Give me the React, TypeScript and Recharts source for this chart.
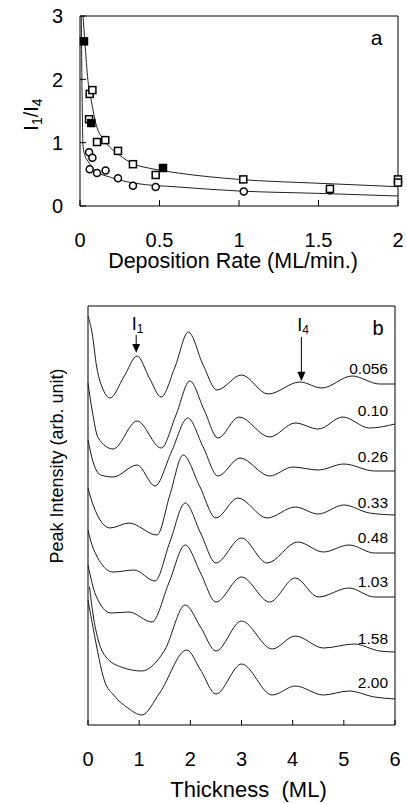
import React from 'react';
import { ComposedChart, LineChart, Line, Scatter, XAxis, YAxis, ReferenceArea } from 'recharts';

const FONT = '"Liberation Sans", Arial, Helvetica, sans-serif';

// ---------- Panel a ----------
const rateTicks = [0, 0.5, 1, 1.5, 2];
const ratioTicks = [0, 1, 2, 3];

const openSquares = [
  { x: 0.061, y: 1.77 }, { x: 0.078, y: 1.83 }, { x: 0.057, y: 1.37 }, { x: 0.107, y: 1.01 },
  { x: 0.159, y: 1.04 }, { x: 0.239, y: 0.87 }, { x: 0.333, y: 0.66 }, { x: 0.476, y: 0.49 },
  { x: 1.027, y: 0.42 }, { x: 1.572, y: 0.27 }, { x: 2.0, y: 0.42 }, { x: 2.0, y: 0.37 },
];
const filledSquares = [
  { x: 0.025, y: 2.6 }, { x: 0.071, y: 1.31 }, { x: 0.522, y: 0.6 },
];
const openCircles = [
  { x: 0.057, y: 0.85 }, { x: 0.078, y: 0.76 }, { x: 0.061, y: 0.58 }, { x: 0.107, y: 0.52 },
  { x: 0.161, y: 0.56 }, { x: 0.239, y: 0.44 }, { x: 0.333, y: 0.32 }, { x: 0.476, y: 0.3 },
  { x: 1.03, y: 0.23 }, { x: 1.572, y: 0.25 },
];
const fitUpper = [
  { x: 0.019, y: 3.0 }, { x: 0.03, y: 2.61 }, { x: 0.05, y: 1.98 }, { x: 0.071, y: 1.66 },
  { x: 0.1, y: 1.3 }, { x: 0.155, y: 1.03 }, { x: 0.24, y: 0.82 }, { x: 0.34, y: 0.66 },
  { x: 0.44, y: 0.595 }, { x: 0.62, y: 0.52 }, { x: 1.0, y: 0.42 }, { x: 1.49, y: 0.36 },
  { x: 2.0, y: 0.305 },
];
const fitLower = [
  { x: 0.008, y: 3.0 }, { x: 0.012, y: 2.0 }, { x: 0.019, y: 0.95 }, { x: 0.03, y: 0.8 },
  { x: 0.05, y: 0.71 }, { x: 0.092, y: 0.56 }, { x: 0.197, y: 0.45 }, { x: 0.344, y: 0.36 },
  { x: 0.62, y: 0.3 }, { x: 1.0, y: 0.237 }, { x: 1.49, y: 0.2 }, { x: 2.0, y: 0.158 },
];

// ---------- Panel b ----------
const thicknessTicks = [0, 1, 2, 3, 4, 5, 6];
const depositionRates = ['0.056', '0.10', '0.26', '0.33', '0.48', '1.03', '1.58', '2.00'];

const curve056: number[][] = [
  [0, 40.9], [0.08, 39.2], [0.17, 35.8], [0.3, 33.5], [0.43, 32.7], [0.7, 34.8], [0.96, 36.9],
  [1.2, 34.7], [1.43, 32.8], [1.7, 35.8], [1.96, 39.3], [2.25, 36.0], [2.52, 33.5], [3.0, 35.0],
  [3.52, 33.1], [4.14, 34.3], [4.57, 33.7], [5.16, 34.9], [5.7, 34.1], [6, 34.1],
];
const curve010: number[][] = [
  [0, 34.2], [0.08, 31.5], [0.2, 28.7], [0.49, 27.6], [0.96, 30.4], [1.43, 27.7], [1.72, 31.0],
  [1.99, 34.4], [2.27, 31.5], [2.54, 28.7], [2.95, 30.8], [3.55, 28.8], [4.05, 30.2], [4.5, 29.6],
  [4.98, 30.8], [5.5, 29.7], [6, 30.1],
];
const curve026: number[][] = [
  [0, 28.5], [0.1, 26.3], [0.25, 25.0], [0.49, 24.8], [0.96, 26.0], [1.31, 23.9], [1.63, 27.3],
  [1.95, 30.7], [2.25, 27.8], [2.54, 24.9], [2.97, 26.7], [3.55, 24.9], [4.0, 25.8], [4.5, 25.5],
  [5.0, 26.1], [5.6, 25.4], [6, 25.4],
];
const curve033: number[][] = [
  [0, 23.7], [0.1, 22.0], [0.43, 19.7], [0.8, 20.2], [1.35, 19.0], [1.6, 23.0], [1.86, 27.0],
  [2.18, 23.9], [2.5, 20.7], [2.93, 22.7], [3.5, 20.7], [4.05, 21.8], [4.5, 21.1], [5.0, 22.0],
  [5.5, 21.2], [6, 21.0],
];
const curve048: number[][] = [
  [0, 19.5], [0.1, 17.7], [0.49, 15.3], [0.9, 15.5], [1.31, 14.4], [1.6, 18.3], [1.9, 22.2],
  [2.2, 19.2], [2.5, 16.2], [3.0, 18.7], [3.5, 16.2], [4.1, 18.3], [4.6, 17.3], [5.1, 18.0],
  [5.6, 17.2], [6, 17.2],
];
const curve103: number[][] = [
  [0, 16.0], [0.15, 13.0], [0.45, 11.2], [0.8, 11.3], [1.25, 10.3], [1.58, 14.2], [1.9, 18.0],
  [2.2, 15.2], [2.5, 12.3], [3.0, 14.8], [3.55, 12.3], [4.05, 14.7], [4.5, 12.8], [5.1, 13.7],
  [5.6, 12.8], [6, 12.8],
];
const curve158: number[][] = [
  [0.03, 13.8], [0.1, 11.0], [0.2, 8.5], [0.35, 6.8], [0.65, 5.8], [1.05, 5.4], [1.5, 7.5],
  [1.9, 12.0], [2.2, 9.8], [2.5, 7.4], [3.0, 10.4], [3.6, 7.6], [4.05, 8.9], [4.6, 7.7],
  [5.2, 8.1], [5.7, 7.4], [6, 7.3],
];
const curve200: number[][] = [
  [0, 12.5], [0.1, 9.7], [0.33, 4.3], [0.5, 3.0], [0.78, 1.7], [1.05, 1.0], [1.4, 3.2],
  [1.93, 7.5], [2.2, 5.5], [2.5, 3.1], [3.0, 6.1], [3.6, 3.0], [4.05, 3.9], [4.6, 3.0],
  [5.1, 3.4], [5.6, 2.8], [6, 2.6],
];

const curves = [curve056, curve010, curve026, curve033, curve048, curve103, curve158, curve200];
const toPts = (pairs: number[][]) => pairs.map(([t, v]) => ({ t, v }));

const OpenSquare = (p: any) => (
  <rect x={p.cx - 3.5} y={p.cy - 3.5} width={7} height={7} fill="#fff" stroke="#000" strokeWidth={1.5} />
);
const FilledSquare = (p: any) => (
  <rect x={p.cx - 3.5} y={p.cy - 3.5} width={7} height={7} fill="#000" stroke="#000" strokeWidth={1.5} />
);
const OpenCircle = (p: any) => (
  <circle cx={p.cx} cy={p.cy} r={3.5} fill="#fff" stroke="#000" strokeWidth={1.5} />
);

// Inward tick mark + label for a bottom x axis (plot bottom edge at axisY in chart coords)
const makeXTick = (axisY: number, baseline: number, len: number) => (props: any) => {
  const { x, payload } = props;
  return (
    <g>
      <line x1={x} x2={x} y1={axisY} y2={axisY - len} stroke="#000" strokeWidth={1} />
      <text x={x} y={baseline} textAnchor="middle" fontSize={20} fill="#000" fontFamily={FONT}>
        {payload.value}
      </text>
    </g>
  );
};
// Inward tick mark + label for the left y axis (plot left edge at axisX)
const makeYTick = (axisX: number, labelX: number, len: number) => (props: any) => {
  const { y, payload } = props;
  return (
    <g>
      <line x1={axisX} x2={axisX + len} y1={y} y2={y} stroke="#000" strokeWidth={1} />
      <text x={labelX} y={y + 7.2} textAnchor="end" fontSize={20} fill="#000" fontFamily={FONT}>
        {payload.value}
      </text>
    </g>
  );
};

const labelY = [374, 416, 462, 508, 543, 587, 644, 688];

export default function App() {
  return (
    <div style={{ position: 'absolute', left: 0, top: 0, width: 407, height: 804, background: '#fff', fontFamily: FONT }}>
      <div style={{ position: 'absolute', left: 0, top: 0 }}>
        <ComposedChart width={407} height={280} margin={{ top: 16, right: 9, bottom: 30, left: 0 }}>
          <XAxis type="number" dataKey="x" domain={[0, 2]} ticks={rateTicks} interval={0}
            axisLine={false} tickLine={false} height={44}
            tick={makeXTick(206, 246.5, 6)} />
          <YAxis type="number" dataKey="y" domain={[0, 3]} ticks={ratioTicks} interval={0}
            axisLine={false} tickLine={false} width={80}
            tick={makeYTick(80, 63, 6)} />
          <ReferenceArea x1={0} x2={2} y1={0} y2={3} fill="none" fillOpacity={0} stroke="#000" strokeWidth={1} />
          <Line data={fitUpper} dataKey="y" type="monotone" dot={false} stroke="#222" strokeWidth={1} isAnimationActive={false} />
          <Line data={fitLower} dataKey="y" type="monotone" dot={false} stroke="#222" strokeWidth={1} isAnimationActive={false} />
          <Scatter data={openCircles} dataKey="y" shape={OpenCircle} isAnimationActive={false} />
          <Scatter data={openSquares} dataKey="y" shape={OpenSquare} isAnimationActive={false} />
          <Scatter data={filledSquares} dataKey="y" shape={FilledSquare} isAnimationActive={false} />
        </ComposedChart>
      </div>
      <div style={{ position: 'absolute', left: 0, top: 290 }}>
        <LineChart width={407} height={514} margin={{ top: 16, right: 12, bottom: 19, left: 88 }}>
          <XAxis type="number" dataKey="t" domain={[0, 6]} ticks={thicknessTicks} interval={0}
            axisLine={false} tickLine={false} height={60}
            tick={makeXTick(435, 476, 5)} />
          <YAxis type="number" domain={[0, 41.9]} hide />
          <ReferenceArea x1={0} x2={6} y1={0} y2={41.9} fill="none" fillOpacity={0} stroke="#000" strokeWidth={1} />
          {curves.map((c, i) => (
            <Line key={depositionRates[i]} name={depositionRates[i]} data={toPts(c)} dataKey="v" type="monotone"
              dot={false} stroke="#1a1a1a" strokeWidth={1} isAnimationActive={false} />
          ))}
        </LineChart>
      </div>
      <svg width={407} height={804} style={{ position: 'absolute', left: 0, top: 0, pointerEvents: 'none' }}
        fontFamily={FONT} fill="#000">
        {/* panel a */}
        <text x={376.5} y={45} fontSize={21} textAnchor="middle">a</text>
        <text transform="rotate(-90 37.7 114.5)" x={37.7} y={114.5} fontSize={20} textAnchor="middle">
          I<tspan fontSize={14} dy={4}>1</tspan><tspan dy={-4}>/I</tspan><tspan fontSize={14} dy={4}>4</tspan>
        </text>
        <text x={233} y={268} fontSize={21.5} textAnchor="middle">Deposition Rate (ML/min.)</text>
        {/* panel b */}
        <text x={378} y={335} fontSize={20} textAnchor="middle">b</text>
        <text x={137.5} y={330} fontSize={18} textAnchor="middle">I<tspan fontSize={12} dy={3}>1</tspan></text>
        <line x1={136.2} y1={335} x2={136.2} y2={345} stroke="#000" strokeWidth={1} />
        <polygon points="132.3,344 140.1,344 136.2,352.7" fill="#000" />
        <text x={303} y={331} fontSize={18} textAnchor="middle">I<tspan fontSize={12} dy={3}>4</tspan></text>
        <line x1={301.4} y1={337} x2={301.4} y2={372} stroke="#000" strokeWidth={1} />
        <polygon points="297.3,371.7 305.5,371.7 301.4,381" fill="#000" />
        {depositionRates.map((r, i) => (
          <text key={r} x={388} y={labelY[i]} fontSize={15.5} textAnchor="end">{r}</text>
        ))}
        <text transform="rotate(-90 63 466)" x={63} y={466} fontSize={18} textAnchor="middle">Peak Intensity (arb. unit)</text>
        <text x={248.5} y={797} fontSize={22} textAnchor="middle" style={{ whiteSpace: 'pre' }}>{'Thickness  (ML)'}</text>
      </svg>
    </div>
  );
}
